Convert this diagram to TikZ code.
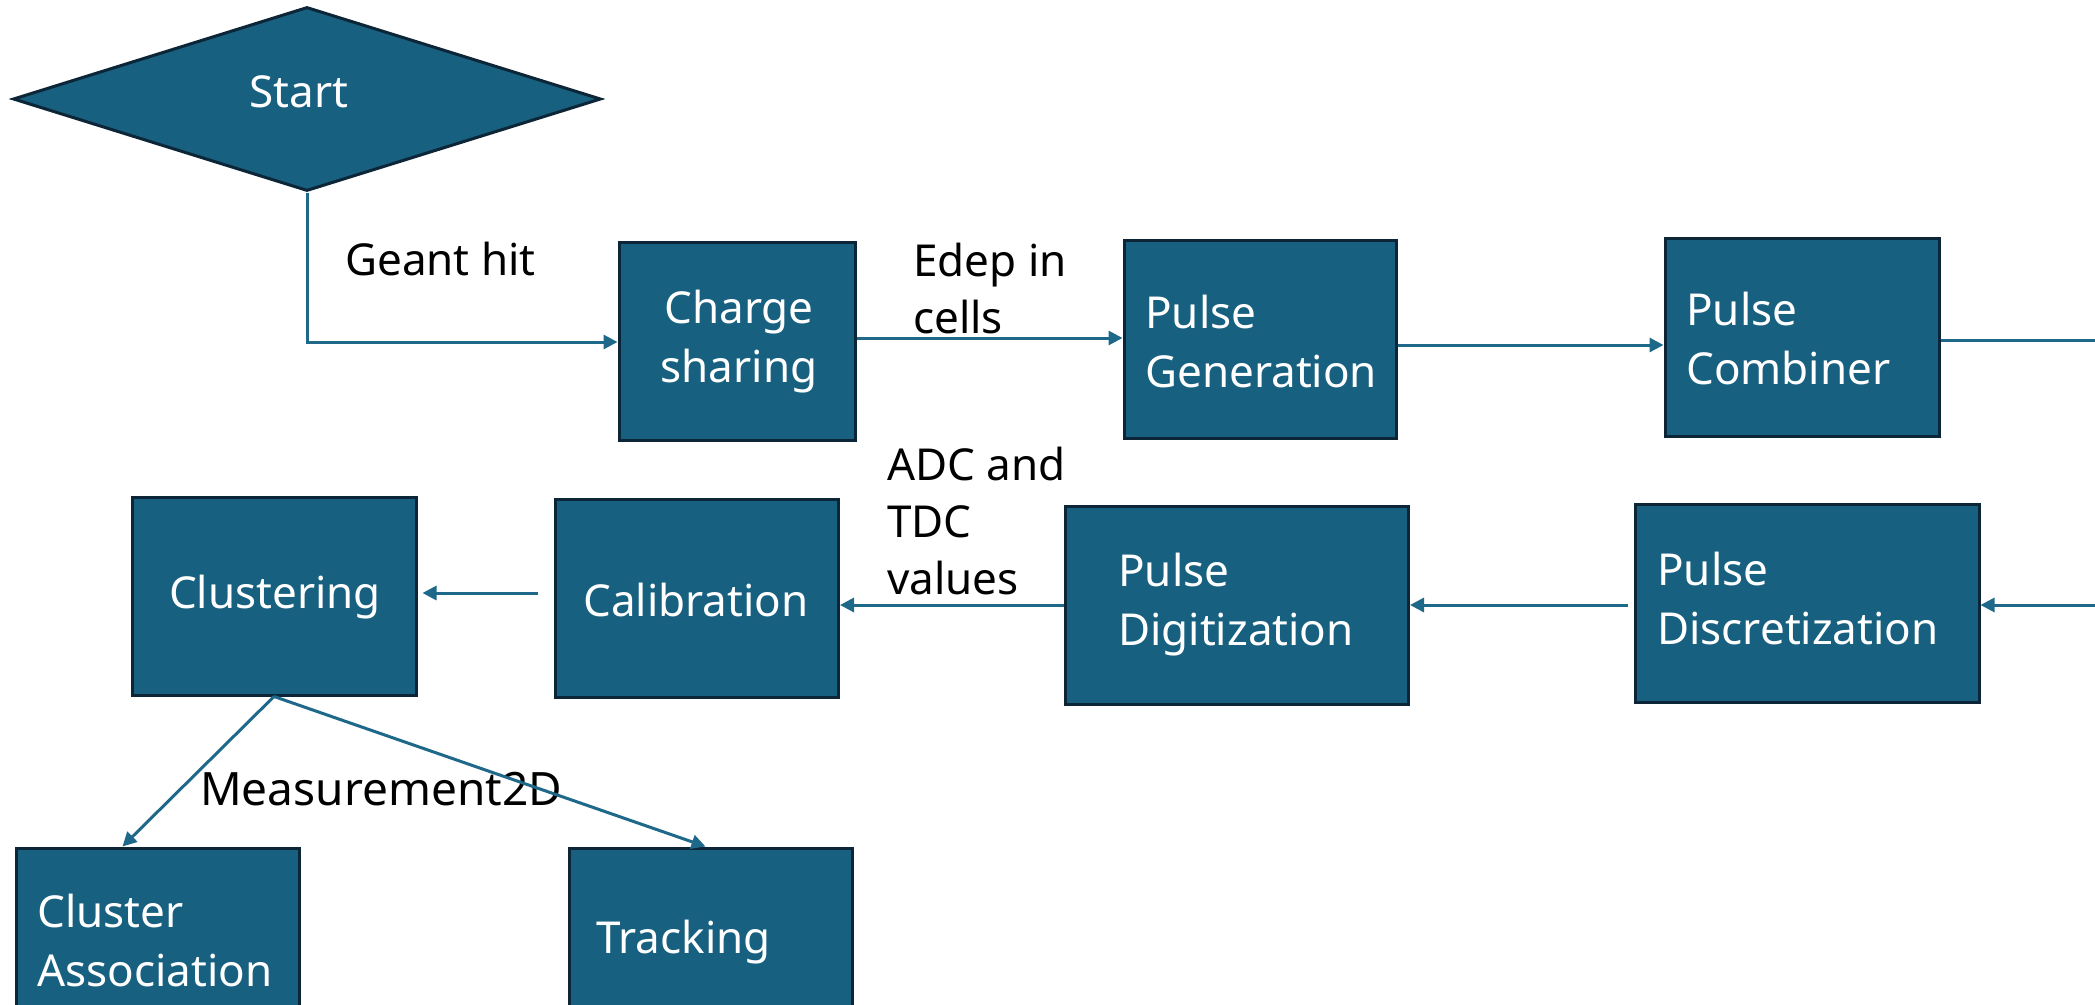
\documentclass[tikz,border=0pt]{standalone}
\usepackage{fontspec}
\setmainfont{Noto Sans}
\usetikzlibrary{shapes.geometric,arrows.meta}
\definecolor{boxfill}{HTML}{186080}
\definecolor{boxedge}{HTML}{0C2638}
\definecolor{linecol}{HTML}{1E6889}
\tikzset{
  box/.style={draw=boxedge, line width=3pt, fill=boxfill, minimum width=#1, minimum height=198pt, inner sep=0pt},
  intext/.style={text=white, font=\fontsize{44}{59}\selectfont, inner sep=0pt, align=left},
  lbl/.style={text=black, font=\fontsize{44}{57}\selectfont, inner sep=0pt, align=left},
  conn/.style={draw=linecol, line width=3pt, -{Triangle[length=14pt,width=14pt]}},
  plain/.style={draw=linecol, line width=3pt}
}
\begin{document}
\begin{tikzpicture}[x=1pt,y=-1pt]
\useasboundingbox (0,0) rectangle (2095,1004);
% diamond
\node[diamond, aspect=2.69, draw=boxedge, line width=3pt, fill=boxfill, minimum width=588pt, minimum height=184pt, inner sep=0pt] (start) at (307,99) {};
\node[intext, anchor=center] (starttxt) at (299,92) {Start};
% boxes
\node[box=236pt] (cs) at (737,341) {};
\node[box=272pt] (pg) at (1260,339) {};
\node[box=274pt] (pc) at (1802,337) {};
\node[box=284pt] (cl) at (274,596) {};
\node[box=283pt] (cal) at (697,598) {};
\node[box=343pt] (pdg) at (1237,605) {};
\node[box=344pt] (pds) at (1807,603) {};
\node[box=283pt] (ca) at (157.5,947) {};
\node[box=283pt] (tr) at (710.5,947) {};
% box texts
\node[intext, align=center] (cstxt) at (739,342) {Charge\\sharing};
\node[intext, anchor=west] (pgtxt) at (1145,341) {Pulse\\Generation};
\node[intext, anchor=west] (pctxt) at (1686,338) {Pulse\\Combiner};
\node[intext] (cltxt) at (275,597) {Clustering};
\node[intext] (caltxt) at (696,600) {Calibration};
\node[intext, anchor=west] (pdgtxt) at (1118,605) {Pulse\\Digitization};
\node[intext, anchor=west] (pdstxt) at (1657,598) {Pulse\\Discretization};
\node[intext, anchor=west] (catxt) at (37,940) {Cluster\\Association};
\node[intext, anchor=west] (trtxt) at (596,942) {Tracking};
% labels
\node[lbl, anchor=west] (geant) at (345,259) {Geant hit};
\node[lbl, anchor=west] (edep) at (913,288) {Edep in\\cells};
\node[lbl, anchor=west] (adc) at (887,521) {ADC and\\TDC\\values};
\node[lbl, anchor=west, font=\fontsize{46}{57}\selectfont] (meas) at (200,789) {Measurement2D};
% off-page ends
\coordinate (outtop) at (2095,340);
\coordinate (outbot) at (2095,605);
% connectors
\draw[conn] (start.south) |- (cs.west |- 0,342);
\draw[conn] (cs.east |- 0,338) -- (pg.west |- 0,338);
\draw[conn] (pg.east |- 0,345) -- (pc.west |- 0,345);
\draw[plain] (pc.east |- outtop) -- (outtop);
\draw[conn] (outbot) -- (pds.east |- outbot);
\draw[conn] ([xshift=-6pt]pds.west |- 0,605) -- (pdg.east |- 0,605);
\draw[conn] (pdg.west |- 0,605) -- (cal.east |- 0,605);
\draw[conn] ([xshift=-16pt]cal.west |- 0,593) -- ([xshift=5pt]cl.east |- 0,593);
\draw[conn] (cl.south) -- ([xshift=-35pt]ca.north);
\draw[conn] (cl.south) -- ([xshift=-5pt]tr.north);
\end{tikzpicture}
\end{document}
